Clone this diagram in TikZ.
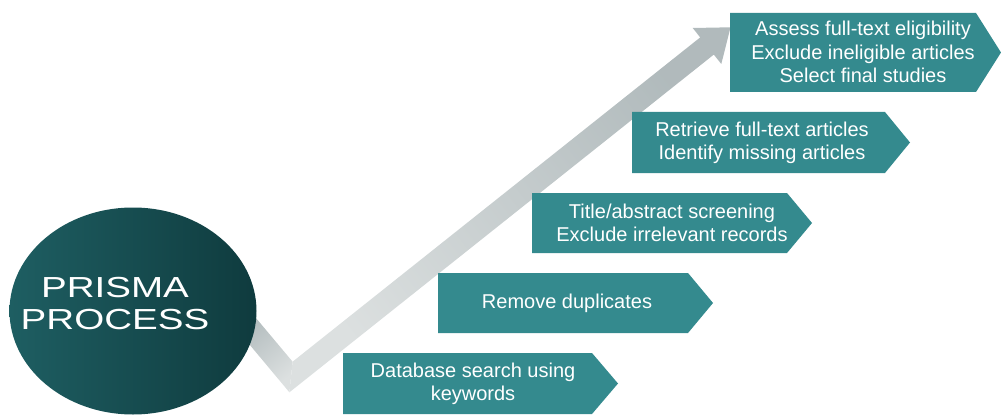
\documentclass[tikz,border=0pt]{standalone}
\usepackage{fontspec}
\setmainfont{Liberation Sans}
\usetikzlibrary{shapes.geometric}
\definecolor{stepteal}{HTML}{348A8E}
\definecolor{coreL}{HTML}{1E5E62}
\definecolor{coreR}{HTML}{0F3B3E}
\definecolor{bandLight}{HTML}{DCE0E0}
\definecolor{bandMid}{HTML}{C9CFD0}
\definecolor{bandDark}{HTML}{AEB8BA}
\begin{document}
\begin{tikzpicture}[x=1pt,y=-1pt,
  stepbox/.style={fill=stepteal},
  steptext/.style={text=white, align=center, inner sep=0pt,
    font=\fontsize{20}{23.5}\selectfont},
  coretext/.style={text=white, align=center, inner sep=0pt,
    xscale=1.33, transform shape, font=\fontsize{29}{32}\selectfont},
]
\useasboundingbox (0,0) rectangle (1001,417);

% ---- rising V-shaped arrow behind the circle ----
\coordinate (armTopL) at (248.4,309.0);
\coordinate (armBotL) at (231.6,323.1);
\coordinate (notch)   at (292.6,361.7);
\coordinate (corner)  at (289.4,392.3);
\coordinate (baseUp)  at (700.2,37.4);
\coordinate (baseLo)  at (713.8,54.6);
\coordinate (barbUp)  at (692.7,28.0);
\coordinate (barbLo)  at (721.3,64.0);
\coordinate (tip)     at (730.5,27.3);

\shade[bottom color=bandLight, top color=bandDark, shading angle=40]
  (armTopL) -- (notch) -- (corner) -- (armBotL) -- cycle;
\shade[bottom color=bandLight, top color=bandDark!90!bandMid, shading angle=-52]
  (corner) -- (notch) -- (baseUp) -- (barbUp) -- (tip) -- (barbLo) -- (baseLo) -- cycle;

% ---- central circle ----
\node[ellipse, minimum width=247pt, minimum height=207pt, inner sep=0pt,
      left color=coreL, right color=coreR] (core) at (133,311) {};
\node[coretext] (coreLabel) at (115,304) {PRISMA\\PROCESS};

% ---- process steps ----
\fill[stepbox] (343,353) -- (592,353) -- (618,383.5) -- (592,414) -- (343,414) -- cycle;
\node[steptext] (s1) at (473,384) {Database search using\\keywords};

\fill[stepbox] (438,273) -- (688,273) -- (713,303) -- (688,333) -- (438,333) -- cycle;
\node[steptext] (s2) at (567,303) {Remove duplicates};

\fill[stepbox] (532,193) -- (787,193) -- (812,223) -- (787,253) -- (532,253) -- cycle;
\node[steptext] (s3) at (672,223) {Title/abstract screening\\Exclude irrelevant records};

\fill[stepbox] (632,112) -- (885,112) -- (910,142.5) -- (885,173) -- (632,173) -- cycle;
\node[steptext] (s4) at (762,143) {Retrieve full-text articles\\Identify missing articles};

\fill[stepbox] (730,13) -- (976,13) -- (1001,52.5) -- (976,92) -- (730,92) -- cycle;
\node[steptext] (s5) at (863,52) {Assess full-text eligibility\\Exclude ineligible articles\\Select final studies};
\end{tikzpicture}
\end{document}
